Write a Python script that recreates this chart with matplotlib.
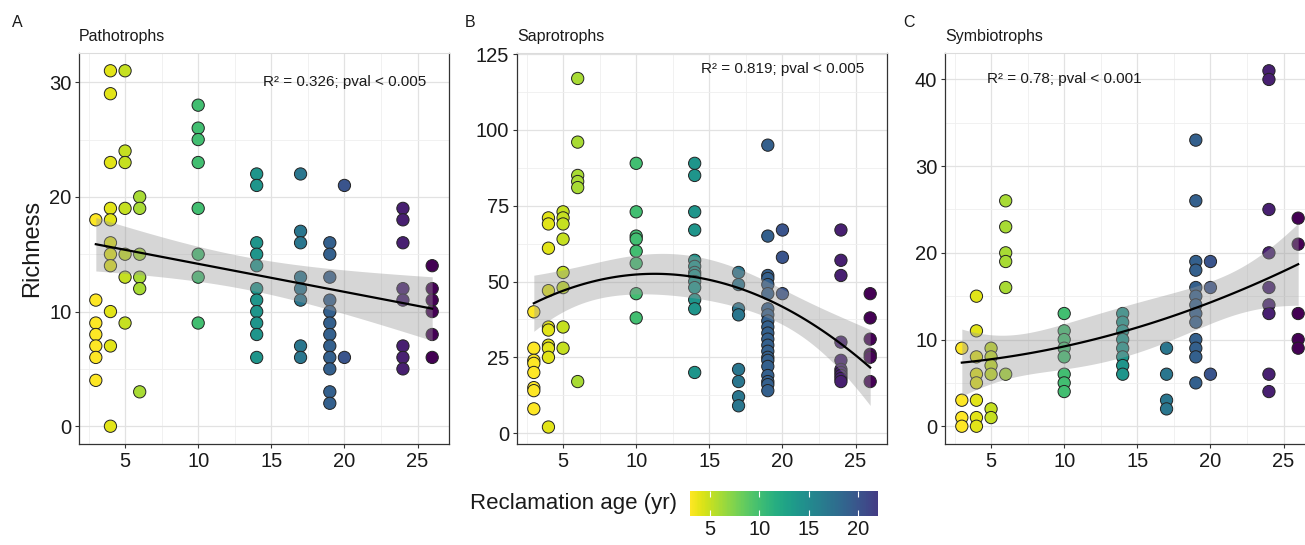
import numpy as np
import matplotlib
matplotlib.use("Agg")
import matplotlib.pyplot as plt
from matplotlib.colors import Normalize, ListedColormap
from matplotlib.cm import ScalarMappable

plt.rcParams['font.family'] = ['Liberation Sans', 'DejaVu Sans']

# reclamation age groups (yr), shared by all panels
ages = [3, 4, 5, 6, 10, 14, 17, 19, 20, 24, 26]

# richness values per age group
patho = [
    [18, 11, 9, 8, 7, 6, 4],
    [31, 29, 23, 19, 18, 16, 15, 14, 10, 7, 0],
    [31, 24, 23, 19, 15, 13, 9],
    [20, 19, 15, 13, 12, 3],
    [28, 26, 25, 23, 19, 15, 13, 9],
    [22, 21, 16, 15, 14, 12, 11, 10, 9, 8, 6],
    [22, 17, 16, 13, 12, 11, 7, 6],
    [16, 15, 13, 11, 10, 9, 8, 7, 6, 5, 3, 2],
    [21, 6],
    [19, 18, 16, 12, 11, 7, 6, 5],
    [14, 12, 11, 10, 8, 6],
]
sapro = [
    [40, 28, 24, 23, 20, 15, 14, 8],
    [71, 69, 61, 47, 35, 34, 29, 28, 25, 2],
    [73, 71, 69, 64, 53, 48, 35, 28],
    [117, 96, 85, 83, 81, 17],
    [89, 73, 65, 64, 60, 56, 46, 38],
    [89, 85, 73, 67, 57, 55, 53, 52, 50, 48, 44, 41, 20],
    [53, 49, 41, 39, 21, 17, 12, 9],
    [95, 65, 52, 51, 49, 46, 41, 39, 37, 35, 33, 31, 29, 27, 25, 24, 22, 19, 17, 16, 14],
    [67, 58, 46],
    [67, 57, 52, 30, 24, 21, 20, 19, 18, 17],
    [46, 38, 31, 26, 25, 17],
]
symbio = [
    [9, 3, 1, 0],
    [15, 11, 8, 6, 5, 3, 1, 0],
    [9, 8, 7, 6, 2, 1],
    [26, 23, 20, 19, 16, 6],
    [13, 11, 10, 9, 8, 6, 5, 4],
    [13, 12, 11, 10, 9, 8, 7, 6],
    [9, 6, 3, 2],
    [33, 26, 19, 18, 16, 15, 14, 13, 12, 10, 9, 8, 5],
    [19, 16, 6],
    [41, 40, 25, 20, 16, 14, 13, 6, 4],
    [24, 21, 13, 10, 9],
]

titles = ["Pathotrophs", "Saprotrophs", "Symbiotrophs"]
letters = ["A", "B", "C"]
notes = ["R² = 0.326; pval < 0.005", "R² = 0.819; pval < 0.005", "R² = 0.78; pval < 0.001"]
note_pos = [(20, 30), (20, 120), (10, 40)]
degrees = [1, 2, 2]
yticks = [[0, 10, 20, 30], [0, 25, 50, 75, 100, 125], [0, 10, 20, 30, 40]]
ylims = [(-1.55, 32.55), (-3.6, 125.4), (-2.05, 43.05)]
cbar_ticks = [5, 10, 15, 20]


def expand(groups):
    x = np.concatenate([[a] * len(g) for a, g in zip(ages, groups)]).astype(float)
    y = np.concatenate(groups).astype(float)
    return x, y


def fit_band(x, y, deg, xs):
    X = np.vander(x, deg + 1)
    beta = np.linalg.lstsq(X, y, rcond=None)[0]
    res = y - X @ beta
    s2 = res @ res / (len(y) - deg - 1)
    cov = s2 * np.linalg.inv(X.T @ X)
    Xs = np.vander(xs, deg + 1)
    yhat = Xs @ beta
    se = np.sqrt(np.einsum('ij,jk,ik->i', Xs, cov, Xs))
    return yhat, yhat - 1.98 * se, yhat + 1.98 * se


cmap = plt.get_cmap('viridis_r')
norm = Normalize(3, 26)

W, H = 1305, 545
fig = plt.figure(figsize=(W / 100, H / 100), dpi=100)

panel_left = [79, 517, 945]
panel_w = 370
top, bottom = 53, 444
letter_x = [12, 465, 903]

for i, groups in enumerate([patho, sapro, symbio]):
    ax = fig.add_axes([panel_left[i] / W, 1 - bottom / H, panel_w / W, (bottom - top) / H])
    x, y = expand(groups)
    ax.scatter(x, y, c=x, cmap=cmap, norm=norm, s=78, edgecolors='#222222',
               linewidths=0.7, zorder=2)
    xs = np.linspace(3, 26, 100)
    yhat, lo, hi = fit_band(x, y, degrees[i], xs)
    ax.fill_between(xs, lo, hi, color='#999999', alpha=0.4, lw=0, zorder=3)
    ax.plot(xs, yhat, color='black', lw=1.6, zorder=4)

    ax.set_xlim(1.85, 27.15)
    ax.set_ylim(*ylims[i])
    ax.set_xticks([5, 10, 15, 20, 25])
    ax.set_yticks(yticks[i])
    ax.set_xticks(np.arange(2.5, 27, 5), minor=True)
    step = yticks[i][1] - yticks[i][0]
    ax.set_yticks(np.arange(step / 2, ylims[i][1], step), minor=True)
    ax.tick_params(which='minor', length=0)
    ax.tick_params(which='major', length=3, width=0.8, color='#333333',
                   labelsize=14.5, labelcolor='#1a1a1a', pad=2.5)
    ax.grid(which='major', color='#e2e2e2', lw=0.9, zorder=0)
    ax.grid(which='minor', color='#efefef', lw=0.6, zorder=0)
    ax.set_axisbelow(True)
    for side in ['left', 'bottom', 'right']:
        ax.spines[side].set_color('#333333')
        ax.spines[side].set_linewidth(0.9)
    ax.spines['top'].set_color('#dcdcdc')

    ax.text(*note_pos[i], notes[i], ha='center', va='center', fontsize=11,
            color='#1a1a1a', zorder=5)
    fig.text(panel_left[i] / W, 1 - 41 / H, titles[i], fontsize=11.5,
             va='baseline', ha='left', color='#1a1a1a')
    fig.text(letter_x[i] / W, 1 - 27 / H, letters[i], fontsize=11.5,
             va='baseline', ha='left', color='#1a1a1a')

fig.text(32 / W, 1 - 248 / H, "Richness", rotation=90, fontsize=17,
         ha='center', va='center', color='#1a1a1a')

# colour legend (shown range 3-22)
cb_lo, cb_hi = 3, 22
cb_cmap = ListedColormap(cmap(norm(np.linspace(cb_lo, cb_hi, 256))))
cax = fig.add_axes([690 / W, 1 - 516 / H, 188 / W, 25 / H])
cb = fig.colorbar(ScalarMappable(Normalize(cb_lo, cb_hi), cb_cmap), cax=cax,
                  orientation='horizontal', ticks=cbar_ticks)
cb.outline.set_visible(False)
cax.tick_params(direction='in', color='white', length=4, width=0.8, top=True,
                labelsize=14.5, labelcolor='#1a1a1a', pad=3)
fig.text(677 / W, 1 - 504 / H, "Reclamation age (yr)", fontsize=16,
         ha='right', va='center', color='#1a1a1a')

fig.savefig("out.png", dpi=100)
